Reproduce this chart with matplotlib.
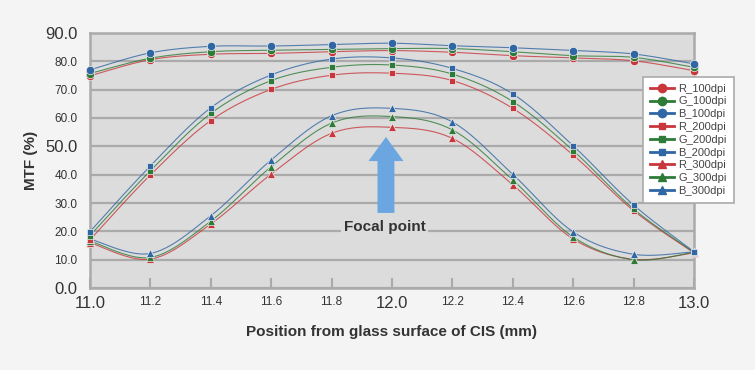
import numpy as np
import matplotlib
matplotlib.use("Agg")
import matplotlib.pyplot as plt
from matplotlib.patches import FancyArrow

plt.rcParams['font.family'] = ['Liberation Sans', 'DejaVu Sans']

# Position from glass surface (mm)
x_pos = [11.0, 11.2, 11.4, 11.6, 11.8, 12.0, 12.2, 12.4, 12.6, 12.8, 13.0]

# MTF (%)
r100 = [74.9, 80.6, 82.5, 82.8, 83.4, 83.8, 83.2, 82.0, 81.2, 80.2, 76.7]
g100 = [75.7, 81.1, 83.4, 83.9, 84.2, 84.5, 84.5, 83.4, 82.0, 81.4, 77.9]
b100 = [77.0, 83.0, 85.3, 85.4, 85.9, 86.4, 85.5, 84.8, 83.8, 82.6, 79.1]
r200 = [17.0, 39.9, 59.1, 70.1, 75.1, 75.8, 73.2, 63.4, 46.9, 27.3, 12.4]
g200 = [18.5, 41.4, 61.6, 73.2, 77.9, 78.7, 75.5, 65.8, 48.5, 27.9, 12.6]
b200 = [19.9, 43.1, 63.6, 75.2, 80.8, 81.2, 77.5, 68.5, 50.2, 29.3, 12.8]
r300 = [16.0, 10.2, 22.6, 40.2, 54.6, 56.7, 52.8, 36.4, 17.3, 10.1, 12.4]
g300 = [16.6, 10.8, 23.6, 42.8, 58.2, 60.5, 55.8, 38.1, 18.0, 10.0, 12.6]
b300 = [17.3, 12.2, 25.5, 45.2, 60.8, 63.4, 58.6, 40.1, 19.8, 11.9, 12.8]

x_labels = ["11.0", "11.2", "11.4", "11.6", "11.8", "12.0",
            "12.2", "12.4", "12.6", "12.8", "13.0"]
y_ticks = [0, 10, 20, 30, 40, 50, 60, 70, 80, 90]
y_labels = ["0.0", "10.0", "20.0", "30.0", "40.0", "50.0",
            "60.0", "70.0", "80.0", "90.0"]

RED, GREEN, BLUE = "#c9363c", "#2e7b38", "#2f66a3"


def smooth(x, y, n=24):
    # Catmull-Rom curve through the points (like Excel's smoothed line)
    x = np.asarray(x, float)
    y = np.asarray(y, float)
    px = np.concatenate([[x[0]], x, [x[-1]]])
    py = np.concatenate([[y[0]], y, [y[-1]]])
    xs, ys = [], []
    t = np.linspace(0, 1, n)
    for i in range(1, len(px) - 2):
        p0, p1, p2, p3 = (np.array([px[j], py[j]]) for j in (i - 1, i, i + 1, i + 2))
        c1 = p1 + (p2 - p0) / 6
        c2 = p2 - (p3 - p1) / 6
        pts = ((1 - t) ** 3)[:, None] * p1 + (3 * (1 - t) ** 2 * t)[:, None] * c1 \
            + (3 * (1 - t) * t ** 2)[:, None] * c2 + (t ** 3)[:, None] * p2
        xs.extend(pts[:, 0])
        ys.extend(pts[:, 1])
    return xs, ys


fig = plt.figure(figsize=(7.55, 3.7), dpi=100, facecolor="#f4f4f4")
ax = fig.add_axes([90 / 755, 82 / 370, 604 / 755, 255 / 370])
ax.set_facecolor("#dcdcdc")

series = [
    ("R_100dpi", r100, RED, "o", 6), ("G_100dpi", g100, GREEN, "o", 6), ("B_100dpi", b100, BLUE, "o", 6),
    ("R_200dpi", r200, RED, "s", 5), ("G_200dpi", g200, GREEN, "s", 5), ("B_200dpi", b200, BLUE, "s", 5),
    ("R_300dpi", r300, RED, "^", 6), ("G_300dpi", g300, GREEN, "^", 6), ("B_300dpi", b300, BLUE, "^", 6),
]
zbase = {"o": 7, "s": 5, "^": 3}
for i, (name, vals, col, mk, ms) in enumerate(series):
    z = zbase[mk] + (i % 3) * 0.1
    sx, sy = smooth(x_pos, vals)
    ax.plot(sx, sy, color=col, lw=0.8, alpha=0.8, zorder=z, clip_on=False)
    ax.plot(x_pos, vals, linestyle="none", marker=mk, ms=ms, color=col,
            mec="#eeeeee", mew=0.5, zorder=z + 0.05, clip_on=False)
    # legend proxy
    ax.plot([], [], color=col, lw=2, marker=mk, ms=ms, label=name)

ax.set_xlim(11.0, 13.0)
ax.set_ylim(0, 90)

ax.set_xticks(x_pos)
ax.set_xticklabels(x_labels)
ax.set_yticks(y_ticks)
ax.set_yticklabels(y_labels)
for lbl in ax.get_xticklabels():
    lbl.set_fontsize(12 if lbl.get_text() in ("11.0", "12.0", "13.0") else 8.5)
for lbl in ax.get_yticklabels():
    lbl.set_fontsize(12 if lbl.get_text() in ("0.0", "50.0", "90.0") else 8.5)

ax.tick_params(axis="x", direction="in", length=7, width=1.5, color="#aaaaaa",
               labelcolor="#333333", pad=6)
ax.tick_params(axis="y", length=0, labelcolor="#333333", pad=9)
ax.yaxis.grid(True, color="#aaaaaa", lw=1.6)
ax.set_axisbelow(True)
for sp in ax.spines.values():
    sp.set_color("#aaaaaa")
    sp.set_linewidth(1.8)

ax.set_ylabel("MTF (%)", fontsize=11, fontweight="bold", color="#333333", labelpad=5)
ax.set_xlabel("Position from glass surface of CIS (mm)", fontsize=11,
              fontweight="bold", color="#333333", labelpad=10)

# focal point arrow and label
ax.add_patch(FancyArrow(11.98, 26.5, 0, 26.8, width=0.056, head_width=0.116,
                        head_length=8.5, length_includes_head=True,
                        color="#6ca6e0", lw=0, zorder=2))
ax.text(11.975, 21.5, "Focal point", fontsize=11, fontweight="bold", color="#333333",
        ha="center", va="center", zorder=2.5,
        bbox=dict(facecolor="#dcdcdc", edgecolor="none", pad=2))

leg = ax.legend(loc="upper left", bbox_to_anchor=(643 / 755, 1 - 77 / 370),
                bbox_transform=fig.transFigure, borderaxespad=0, fontsize=8,
                frameon=True, fancybox=False, framealpha=1, edgecolor="#aaaaaa",
                handlelength=2.2, handletextpad=0.4, labelspacing=0.25,
                borderpad=0.6)
leg.get_frame().set_linewidth(1.2)
leg.set_zorder(10)
for t in leg.get_texts():
    t.set_color("#444444")

fig.savefig("out.png", dpi=100, facecolor=fig.get_facecolor())
